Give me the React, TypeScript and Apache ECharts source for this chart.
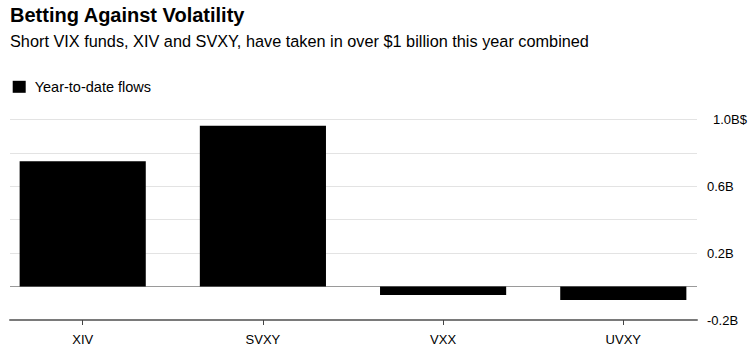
import React, { useEffect, useRef } from "react";
import * as echarts from "echarts";

const titleText = "Betting Against Volatility";
const subtitleText = "Short VIX funds, XIV and SVXY, have taken in over $1 billion this year combined";
const seriesName = "Year-to-date flows";
const categories = ["XIV", "SVXY", "VXX", "UVXY"];
const flows = [0.75, 0.963, -0.05, -0.08];
const yTickLabels: Record<string, string> = {
  "-2": "-0.2B",
  "2": "0.2B",
  "6": "0.6B",
  "10": "{top|1.0B$}",
};

const FONT = "'Liberation Sans', Arial, Helvetica, sans-serif";

export default function App() {
  const ref = useRef<HTMLDivElement>(null);
  useEffect(() => {
    if (!ref.current) return;
    const chart = echarts.init(ref.current, undefined, { renderer: "svg" });
    const gridTop = 119.5;
    const gridBottom = 30;
    chart.setOption({
      animation: false,
      backgroundColor: "#ffffff",
      textStyle: { fontFamily: FONT },
      graphic: [
        {
          type: "text",
          left: 10,
          top: 5,
          style: { text: titleText, font: `bold 20px ${FONT}`, fill: "#000" },
        },
        {
          type: "text",
          left: 10,
          top: 32.5,
          style: { text: subtitleText, font: `16.3px ${FONT}`, fill: "#000" },
        },
      ],
      legend: {
        left: 12.7,
        top: 79.3,
        icon: "rect",
        itemWidth: 13,
        itemHeight: 12,
        padding: 0,
        textStyle: { fontSize: 14.5, color: "#000", fontFamily: FONT, padding: [0, 0, 0, 4] },
        data: [seriesName],
      },
      grid: [
        { left: 10, right: 53, top: gridTop, bottom: gridBottom, outerBoundsMode: "none" },
        { left: -7.4, right: 36.6, top: gridTop, bottom: gridBottom, outerBoundsMode: "none" },
      ],
      xAxis: [
        {
          type: "category",
          gridIndex: 0,
          data: categories,
          axisLine: { show: true, onZero: false, lineStyle: { color: "#7a7a7a", width: 2 } },
          axisTick: { show: false },
          axisLabel: { show: false },
          splitLine: { show: false },
        },
        {
          type: "category",
          gridIndex: 1,
          data: categories,
          axisLine: { show: false, onZero: false },
          axisTick: { show: true, alignWithLabel: true, length: 5, lineStyle: { color: "#444", width: 1 } },
          axisLabel: { show: true, margin: 13, fontSize: 13, color: "#000", fontFamily: FONT },
          splitLine: { show: false },
        },
      ],
      yAxis: [
        {
          type: "value",
          gridIndex: 0,
          position: "right",
          min: -0.2,
          max: 1.0,
          interval: 0.2,
          axisLine: { show: false },
          axisTick: { show: false },
          axisLabel: {
            margin: 10,
            fontSize: 13,
            color: "#000",
            fontFamily: FONT,
            align: "left",
            formatter: (v: number) => yTickLabels[String(Math.round(v * 10))] ?? "",
            rich: { top: { fontSize: 13, color: "#000", fontFamily: FONT, padding: [0, 0, 0, 6] } },
          },
          splitLine: {
            show: true,
            lineStyle: {
              color: ["#7a7a7a", "#9a9a9a", "#e3e3e3", "#e3e3e3", "#e3e3e3", "#e3e3e3", "#e3e3e3"],
              width: 1,
            },
          },
        },
        {
          type: "value",
          gridIndex: 1,
          min: -0.2,
          max: 1.0,
          interval: 0.2,
          show: false,
        },
      ],
      series: [
        {
          name: seriesName,
          type: "bar",
          xAxisIndex: 1,
          yAxisIndex: 1,
          data: flows,
          barWidth: "70%",
          itemStyle: { color: "#000" },
          z: 3,
        },
      ],
    });
    return () => chart.dispose();
  }, []);
  return (
    <div
      ref={ref}
      style={{ position: "fixed", left: 0, top: 0, width: 750, height: 350, background: "#fff" }}
    />
  );
}
